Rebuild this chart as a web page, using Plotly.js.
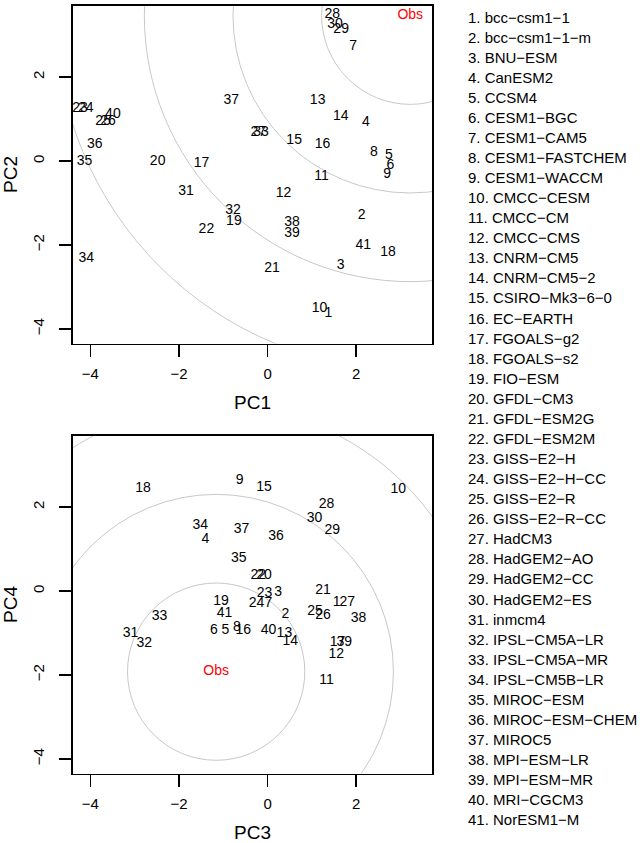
<!DOCTYPE html>
<html><head><meta charset="utf-8">
<script src="https://cdn.plot.ly/plotly-3.0.1.min.js"></script>
<style>html,body{margin:0;padding:0;background:#fff}#chart{width:644px;height:843px}</style>
</head><body><div id="chart"></div>
<script>
const models = ["bcc−csm1−1","bcc−csm1−1−m","BNU−ESM","CanESM2","CCSM4","CESM1−BGC","CESM1−CAM5","CESM1−FASTCHEM","CESM1−WACCM","CMCC−CESM","CMCC−CM","CMCC−CMS","CNRM−CM5","CNRM−CM5−2","CSIRO−Mk3−6−0","EC−EARTH","FGOALS−g2","FGOALS−s2","FIO−ESM","GFDL−CM3","GFDL−ESM2G","GFDL−ESM2M","GISS−E2−H","GISS−E2−H−CC","GISS−E2−R","GISS−E2−R−CC","HadCM3","HadGEM2−AO","HadGEM2−CC","HadGEM2−ES","inmcm4","IPSL−CM5A−LR","IPSL−CM5A−MR","IPSL−CM5B−LR","MIROC−ESM","MIROC−ESM−CHEM","MIROC5","MPI−ESM−LR","MPI−ESM−MR","MRI−CGCM3","NorESM1−M"];
const pc1 = [1.37,2.12,1.65,2.22,2.74,2.77,1.93,2.40,2.70,1.17,1.22,0.36,1.13,1.65,0.60,1.24,-1.49,2.72,-0.76,-2.48,0.10,-1.38,-4.23,-4.10,-3.71,-3.60,-0.21,1.46,1.66,1.52,-1.84,-0.78,-0.15,-4.09,-4.13,-3.90,-0.82,0.55,0.55,-3.49,2.16];
const pc2 = [-3.64,-1.29,-2.48,0.91,0.13,-0.10,2.72,0.20,-0.33,-3.51,-0.36,-0.77,1.45,1.05,0.50,0.40,-0.05,-2.17,-1.43,0.00,-2.56,-1.64,1.26,1.26,0.93,0.93,0.67,3.48,3.12,3.26,-0.73,-1.17,0.67,-2.32,-0.02,0.40,1.45,-1.47,-1.72,1.10,-2.00];
const pc3 = [1.56,0.40,0.24,-1.40,-0.95,-1.21,0.02,-0.69,-0.63,2.95,1.33,1.55,0.38,0.51,-0.08,-0.55,1.58,-2.81,-1.05,-0.08,1.25,-0.21,-0.07,-0.25,1.07,1.25,1.80,1.33,1.46,1.06,-3.09,-2.78,-2.44,-1.52,-0.65,0.19,-0.59,2.05,1.73,0.02,-0.97];
const pc4 = [-0.27,-0.56,-0.03,1.23,-0.95,-0.95,-0.29,-0.86,2.63,2.42,-2.14,-1.52,-1.01,-1.21,2.47,-0.95,-1.23,2.43,-0.25,0.36,0.01,0.36,-0.07,-0.29,-0.49,-0.59,-0.27,2.07,1.44,1.73,-1.01,-1.26,-0.61,1.55,0.78,1.29,1.47,-0.65,-1.23,-0.95,-0.53];
const obsTop = [3.22, 3.46];
const obsBottom = [-1.16, -1.92];
const radii = [2, 4, 6, 8];
const tickVals = [-4, -2, 0, 2];

const W = 644, H = 843;
const xPx = [73, 432];
const topPx = [5.5, 343.5];
const botPx = [435.5, 773.5];
const xRange = [-4.39, 3.71];
const yRange = [-4.345, 3.703];
const ids = models.map((m, i) => String(i + 1));
const font = "Liberation Sans, Arial, Helvetica, sans-serif";

const pxPerX = (xPx[1] - xPx[0]) / (xRange[1] - xRange[0]);

function axisX(title, anchor) {
  return {domain: [xPx[0]/W, xPx[1]/W], range: xRange, anchor: anchor,
    tickvals: tickVals, ticks: 'outside', ticklen: 12, tickwidth: 1.5, tickcolor: '#000',
    showline: true, linecolor: '#000', linewidth: 1.8, mirror: true, ticklabelstandoff: 4,
    showgrid: false, zeroline: false, tickfont: {size: 15, color: '#000', family: font},
    title: {text: title, font: {size: 19, color: '#000', family: font}, standoff: 14}};
}
function axisY(title, anchor, dom) {
  return {domain: [1 - dom[1]/H, 1 - dom[0]/H], range: yRange, anchor: anchor,
    tickvals: tickVals, ticks: 'outside', ticklen: 12, tickwidth: 1.5, tickcolor: '#000', tickangle: -90,
    showline: true, linecolor: '#000', linewidth: 1.8, mirror: true, ticklabelstandoff: 9,
    showgrid: false, zeroline: false, tickfont: {size: 15, color: '#000', family: font},
    title: {text: title, font: {size: 19, color: '#000', family: font}, standoff: 14}};
}

const traces = [
  {x: pc1, y: pc2, text: ids, mode: 'text', type: 'scatter', xaxis: 'x', yaxis: 'y',
   textfont: {size: 14, color: '#000', family: font}, textposition: 'middle center', hoverinfo: 'text'},
  {x: [obsTop[0]], y: [obsTop[1]], text: ['Obs'], mode: 'text', type: 'scatter', xaxis: 'x', yaxis: 'y',
   textfont: {size: 14, color: '#ff0000', family: font}, textposition: 'middle center'},
  {x: pc3, y: pc4, text: ids, mode: 'text', type: 'scatter', xaxis: 'x2', yaxis: 'y2',
   textfont: {size: 14, color: '#000', family: font}, textposition: 'middle center', hoverinfo: 'text'},
  {x: [obsBottom[0]], y: [obsBottom[1]], text: ['Obs'], mode: 'text', type: 'scatter', xaxis: 'x2', yaxis: 'y2',
   textfont: {size: 14, color: '#ff0000', family: font}, textposition: 'middle center'}
];

const shapes = [];
function circles(obs, xr, yr) {
  radii.forEach(r => {
    const rp = r * pxPerX;
    shapes.push({type: 'circle', xref: xr, yref: yr, xsizemode: 'pixel', ysizemode: 'pixel',
      xanchor: obs[0], yanchor: obs[1], x0: -rp, x1: rp, y0: -rp, y1: rp,
      line: {color: '#c8c8c8', width: 1}, layer: 'below'});
  });
}
circles(obsTop, 'x', 'y');
circles(obsBottom, 'x2', 'y2');

const annotations = models.map((m, i) => ({
  text: (i + 1) + '. ' + m, xref: 'paper', yref: 'paper',
  x: 466 / W, y: 1 - (17 + i * 20.07) / H, xanchor: 'left', yanchor: 'middle',
  showarrow: false, font: {size: 15, color: '#000', family: font}
}));

const layout = {
  width: W, height: H, margin: {l: 0, r: 0, t: 0, b: 0},
  paper_bgcolor: '#fff', plot_bgcolor: '#fff', showlegend: false,
  xaxis: axisX('PC1', 'y'), yaxis: axisY('PC2', 'x', topPx),
  xaxis2: axisX('PC3', 'y2'), yaxis2: axisY('PC4', 'x2', botPx),
  shapes: shapes, annotations: annotations,
  font: {family: font}
};
Plotly.newPlot('chart', traces, layout, {staticPlot: true});
</script></body></html>
